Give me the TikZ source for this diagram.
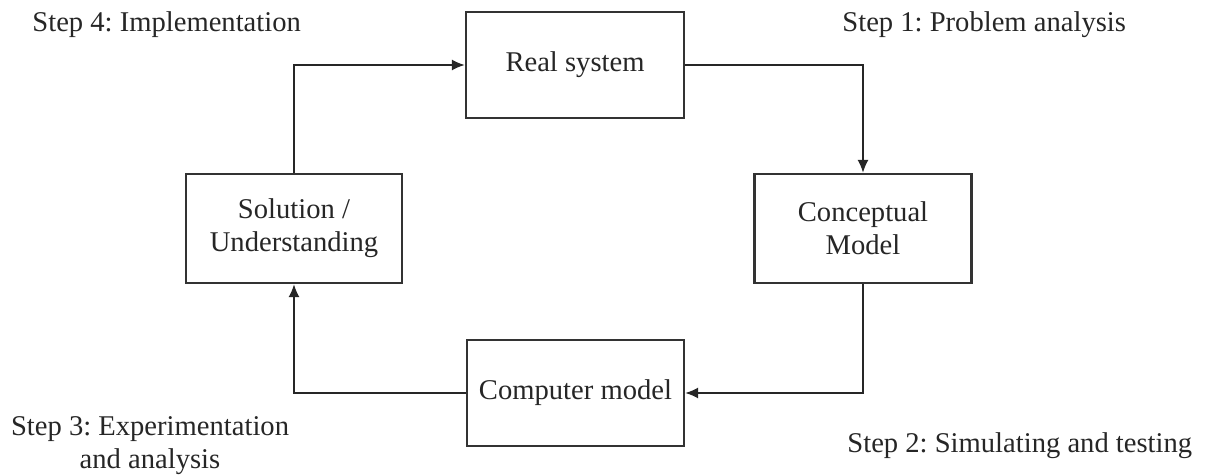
\documentclass[tikz,border=0pt]{standalone}
\usepackage{fontspec}
\setmainfont{Liberation Serif}
\usetikzlibrary{arrows.meta}
\begin{document}
\frenchspacing
\begin{tikzpicture}[x=0.5pt,y=-0.5pt,
  box/.style={draw=black!80, line width=1.1pt, fill=white, align=center,
    inner sep=0pt, font=\fontsize{14.3}{16.5}\selectfont, text=black!85},
  lbl/.style={align=center, inner sep=0pt, font=\fontsize{14.3}{16.5}\selectfont, text=black!85},
  arr/.style={draw=black!85, line width=0.9pt, -{Latex[length=6.5pt,width=5.5pt]}}]
\useasboundingbox (0,0) rectangle (1209,476);
\node[box, minimum width=109pt, minimum height=53pt] (real) at (575,65) {Real system};
\node[box, minimum width=108.5pt, minimum height=54.5pt] (concept) at (863,228.5) {Conceptual\\Model};
\node[box, minimum width=108pt, minimum height=54.5pt] (sol) at (294,228.5) {Solution /\\Understanding};
\node[box, minimum width=108.5pt, minimum height=53pt] (comp) at (575.5,393) {Computer model};
\draw[arr] (real.east) -| (concept.north);
\draw[arr] (concept.south) |- (comp.east);
\draw[arr] (comp.west) -| (sol.south);
\draw[arr] (sol.north) |- (real.west);
\node[lbl, anchor=west] (s4) at (32,25) {Step 4: Implementation};
\node[lbl, anchor=west] (s1) at (842,25) {Step 1: Problem analysis};
\node[lbl] (s3) at (150,446) {Step 3: Experimentation\\and analysis};
\node[lbl, anchor=west] (s2) at (847,446) {Step 2: Simulating and testing};
\end{tikzpicture}
\end{document}
